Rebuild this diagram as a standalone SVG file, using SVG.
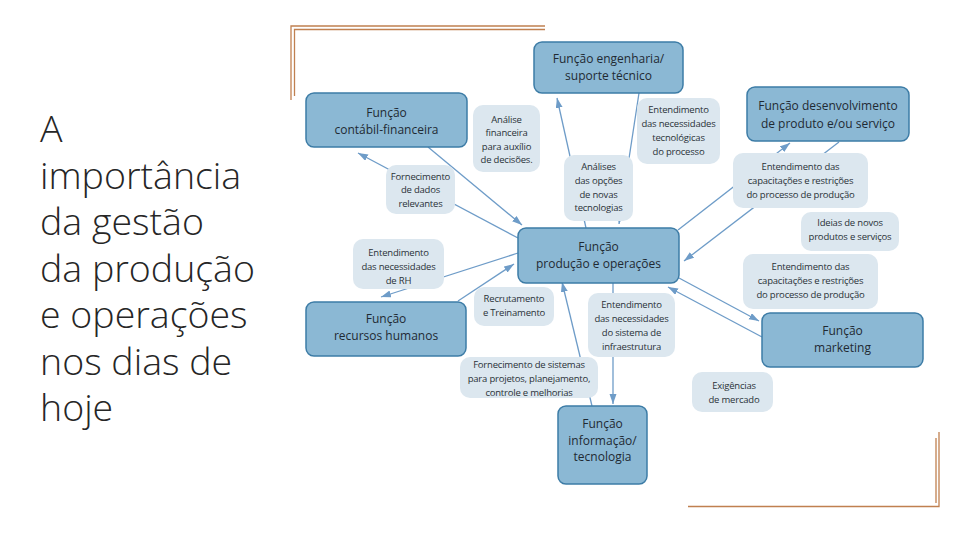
<svg xmlns="http://www.w3.org/2000/svg" width="960" height="540" viewBox="0 0 960 540">
<defs>
<marker id="ah" markerUnits="userSpaceOnUse" markerWidth="11" markerHeight="8" refX="10" refY="3.5" orient="auto">
<path d="M0,0 L10,3.5 L0,7 z" fill="#6E9CC8"/>
</marker>
<style>
.title{font-family:"Open Sans","Liberation Sans",sans-serif;font-size:37.5px;font-weight:300;fill:#262626;}
.node rect{fill:#8BB8D4;stroke:#3D7CA6;stroke-width:1.5;}
.node text{font-family:"Open Sans","Liberation Sans",sans-serif;font-size:12px;fill:#1f2a33;text-anchor:middle;}
.lbl rect{fill:#DCE7EF;}
.lbl text{font-family:"Open Sans","Liberation Sans",sans-serif;font-size:9.5px;fill:#2a3238;text-anchor:middle;letter-spacing:-0.2px;}
.conn line{stroke:#6E9CC8;stroke-width:1.3;fill:none;marker-end:url(#ah);}
.frame{stroke:#C08050;stroke-width:1.3;fill:none;}
</style>
</defs>
<rect width="960" height="540" fill="#ffffff"/>
<g id="title" class="title">
<text x="40" y="142">A</text>
<text x="40" y="188.5">importância</text>
<text x="40" y="235">da gestão</text>
<text x="40" y="281.5">da produção</text>
<text x="40" y="328">e operações</text>
<text x="40" y="374.5">nos dias de</text>
<text x="40" y="421">hoje</text>
</g>
<g id="frame">
<path class="frame" d="M291,100 V26 H545"/>
<path class="frame" d="M294.5,96 V29.5 H545"/>
<path class="frame" d="M939,432 V506.5 H688"/>
<path class="frame" d="M936,438 V503"/>
</g>
<g id="connectors" class="conn">
<line x1="518" y1="238" x2="358" y2="153"/>
<line x1="428" y1="147" x2="522" y2="225"/>
<line x1="586" y1="228" x2="557" y2="98"/>
<line x1="639" y1="93" x2="619" y2="224"/>
<line x1="678" y1="230" x2="790" y2="143"/>
<line x1="839" y1="142" x2="684" y2="261"/>
<line x1="518" y1="253" x2="381" y2="297"/>
<line x1="458" y1="301" x2="514" y2="264"/>
<line x1="613" y1="283" x2="613" y2="404"/>
<line x1="592" y1="406" x2="562" y2="282"/>
<line x1="679" y1="278" x2="759" y2="321"/>
<line x1="762" y1="337" x2="668" y2="287"/>
</g>
<g id="lbl-analise" class="lbl"><rect x="473" y="105" width="67" height="67" rx="10"/>
<text x="506.5" y="122.5">Análise</text><text x="506.5" y="136">financeira</text><text x="506.5" y="149.5">para auxílio</text><text x="506.5" y="163">de decisões.</text></g>
<g id="lbl-fornec-dados" class="lbl"><rect x="386" y="165" width="69" height="49" rx="10"/>
<text x="420.5" y="179.5">Fornecimento</text><text x="420.5" y="193">de dados</text><text x="420.5" y="206.5">relevantes</text></g>
<g id="lbl-analises-opcoes" class="lbl"><rect x="564" y="155" width="69" height="66" rx="10"/>
<text x="598.5" y="170">Análises</text><text x="598.5" y="184">das opções</text><text x="598.5" y="197.5">de novas</text><text x="598.5" y="211">tecnologias</text></g>
<g id="lbl-nec-tec" class="lbl"><rect x="637" y="98" width="83" height="66" rx="10"/>
<text x="678.5" y="113">Entendimento</text><text x="678.5" y="127">das necessidades</text><text x="678.5" y="141">tecnológicas</text><text x="678.5" y="155">do processo</text></g>
<g id="lbl-capac-1" class="lbl"><rect x="733" y="153" width="135" height="55" rx="10"/>
<text x="800.5" y="170">Entendimento das</text><text x="800.5" y="184">capacitações e restrições</text><text x="800.5" y="198">do processo de produção</text></g>
<g id="lbl-ideias" class="lbl"><rect x="801" y="212" width="98" height="39" rx="10"/>
<text x="850" y="226">Ideias de novos</text><text x="850" y="239.5">produtos e serviços</text></g>
<g id="lbl-capac-2" class="lbl"><rect x="743" y="254" width="135" height="55" rx="10"/>
<text x="810.5" y="270">Entendimento das</text><text x="810.5" y="284">capacitações e restrições</text><text x="810.5" y="298">do processo de produção</text></g>
<g id="lbl-rh" class="lbl"><rect x="353" y="239" width="91" height="50" rx="10"/>
<text x="398.5" y="255.5">Entendimento</text><text x="398.5" y="269.5">das necessidades</text><text x="398.5" y="283.5">de RH</text></g>
<g id="lbl-recrut" class="lbl"><rect x="474" y="287" width="80" height="39" rx="10"/>
<text x="514" y="302">Recrutamento</text><text x="514" y="316">e Treinamento</text></g>
<g id="lbl-infra" class="lbl"><rect x="588" y="293" width="87" height="64" rx="10"/>
<text x="631.5" y="308">Entendimento</text><text x="631.5" y="322">das necessidades</text><text x="631.5" y="336">do sistema de</text><text x="631.5" y="350">infraestrutura</text></g>
<g id="lbl-fornec-sist" class="lbl"><rect x="460" y="357" width="138" height="41" rx="10"/>
<text x="529" y="367.5">Fornecimento de sistemas</text><text x="529" y="381.5">para projetos, planejamento,</text><text x="529" y="395.5">controle e melhorias</text></g>
<g id="lbl-exig" class="lbl"><rect x="692" y="372" width="81" height="40" rx="10"/>
<text x="734" y="388.5">Exigências</text><text x="734" y="402.5">de mercado</text></g>
<g id="node-contabil" class="node"><rect x="306" y="93" width="161" height="54" rx="8"/>
<text x="386.5" y="117">Função</text><text x="386.5" y="134">contábil-financeira</text></g>
<g id="node-engenharia" class="node"><rect x="534" y="42" width="149" height="51" rx="8"/>
<text x="608.5" y="63">Função engenharia/</text><text x="608.5" y="80">suporte técnico</text></g>
<g id="node-desenvolvimento" class="node"><rect x="747" y="87" width="162" height="54" rx="8"/>
<text x="828" y="110">Função desenvolvimento</text><text x="828" y="128">de produto e/ou serviço</text></g>
<g id="node-producao" class="node"><rect x="518" y="228" width="161" height="55" rx="8"/>
<text x="598.5" y="251">Função</text><text x="598.5" y="268">produção e operações</text></g>
<g id="node-rh" class="node"><rect x="306" y="302" width="160" height="54" rx="8"/>
<text x="386" y="323">Função</text><text x="386" y="340">recursos humanos</text></g>
<g id="node-marketing" class="node"><rect x="762" y="313" width="161" height="54" rx="8"/>
<text x="842.5" y="335">Função</text><text x="842.5" y="352">marketing</text></g>
<g id="node-informacao" class="node"><rect x="558" y="406" width="89" height="78" rx="8"/>
<text x="602.5" y="428">Função</text><text x="602.5" y="445">informação/</text><text x="602.5" y="461">tecnologia</text></g>
</svg>
